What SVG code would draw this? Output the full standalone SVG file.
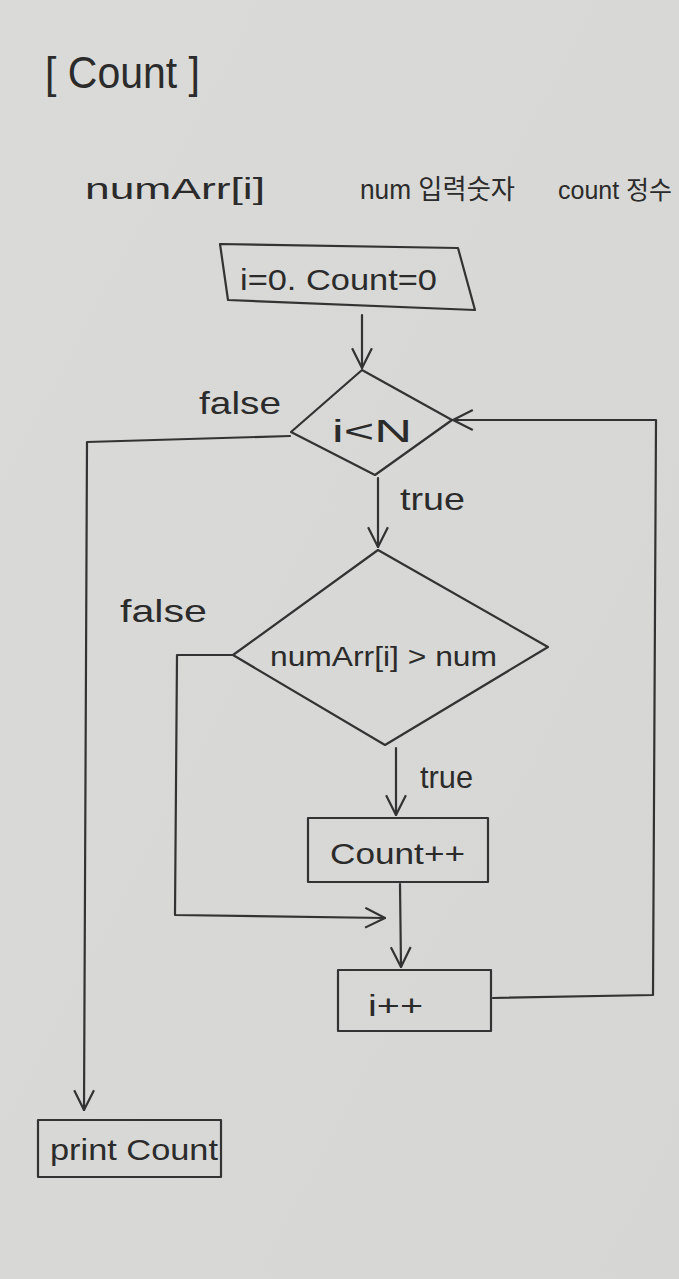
<svg xmlns="http://www.w3.org/2000/svg" width="679" height="1279" viewBox="0 0 679 1279">
<style>
.ln{fill:none;stroke:#333;stroke-width:2.2;stroke-linecap:round;stroke-linejoin:round}
.t{font-family:"Liberation Sans","Noto Sans CJK KR",sans-serif;fill:#2b2b2b}
.lbl{font-size:32px}
</style>
<defs>
<linearGradient id="bg" x1="0" y1="0" x2="1" y2="1">
<stop offset="0" stop-color="#dadad8"/>
<stop offset="1" stop-color="#d6d6d4"/>
</linearGradient>
<marker id="ahb" viewBox="0 0 20 20" refX="19" refY="10" markerWidth="22" markerHeight="22" markerUnits="userSpaceOnUse" orient="auto">
<path d="M1,1 L19,10 L1,19" fill="none" stroke="#333" stroke-width="2"/>
</marker>
</defs>
<rect width="679" height="1279" fill="url(#bg)"/>

<g id="title"><text class="t" x="45" y="88" font-size="44" textLength="155" lengthAdjust="spacingAndGlyphs">[ Count ]</text></g>
<g id="header">
<text class="t" x="85" y="199" font-size="30" textLength="180" lengthAdjust="spacingAndGlyphs">numArr[i]</text>
<text class="t" x="360" y="199" font-size="27" textLength="155" lengthAdjust="spacingAndGlyphs">num 입력숫자</text>
<text class="t" x="558" y="199" font-size="25" textLength="114" lengthAdjust="spacingAndGlyphs">count 정수</text>
</g>

<g id="connectors">
<line class="ln" x1="362" y1="315" x2="362" y2="368" marker-end="url(#ahb)"/>
<polyline class="ln" points="290,436 87,442 84,1110" marker-end="url(#ahb)"/>
<line class="ln" x1="378" y1="478" x2="378" y2="547" marker-end="url(#ahb)"/>
<polyline class="ln" points="233,655 177,655 175,915 385,918" marker-end="url(#ahb)"/>
<line class="ln" x1="396" y1="748" x2="396" y2="815" marker-end="url(#ahb)"/>
<line class="ln" x1="400" y1="884" x2="401" y2="967" marker-end="url(#ahb)"/>
<polyline class="ln" points="493,998 653,995 656,420 453,420" marker-end="url(#ahb)"/>
</g>

<g id="labels">
<text class="t lbl" x="199" y="414" textLength="82" lengthAdjust="spacingAndGlyphs">false</text>
<text class="t lbl" x="400" y="510" textLength="65" lengthAdjust="spacingAndGlyphs">true</text>
<text class="t lbl" x="120" y="622" textLength="87" lengthAdjust="spacingAndGlyphs">false</text>
<text class="t lbl" x="420" y="788" textLength="53" lengthAdjust="spacingAndGlyphs">true</text>
</g>

<g id="init">
<path class="ln" d="M220,244 L458,248 L475,310 L228,300 Z"/>
<text class="t" x="240" y="290" font-size="30" textLength="197" lengthAdjust="spacingAndGlyphs">i=0. Count=0</text>
</g>

<g id="cond1">
<path class="ln" d="M362,370 L452,420 L375,475 L291,432 Z"/>
<text class="t" x="332" y="442" font-size="32" textLength="80" lengthAdjust="spacingAndGlyphs">i&lt;N</text>
</g>

<g id="cond2">
<path class="ln" d="M378,550 L548,647 L385,745 L233,655 Z"/>
<text class="t" x="270" y="666" font-size="27" textLength="227" lengthAdjust="spacingAndGlyphs">numArr[i] &gt; num</text>
</g>

<g id="countpp">
<rect class="ln" x="308" y="818" width="180" height="64"/>
<text class="t" x="330" y="864" font-size="30" textLength="135" lengthAdjust="spacingAndGlyphs">Count++</text>
</g>

<g id="ipp">
<rect class="ln" x="338" y="970" width="153" height="61"/>
<text class="t" x="368" y="1016" font-size="30" textLength="55" lengthAdjust="spacingAndGlyphs">i++</text>
</g>

<g id="print">
<rect class="ln" x="38" y="1120" width="183" height="57"/>
<text class="t" x="50" y="1160" font-size="30" textLength="168" lengthAdjust="spacingAndGlyphs">print Count</text>
</g>
</svg>
